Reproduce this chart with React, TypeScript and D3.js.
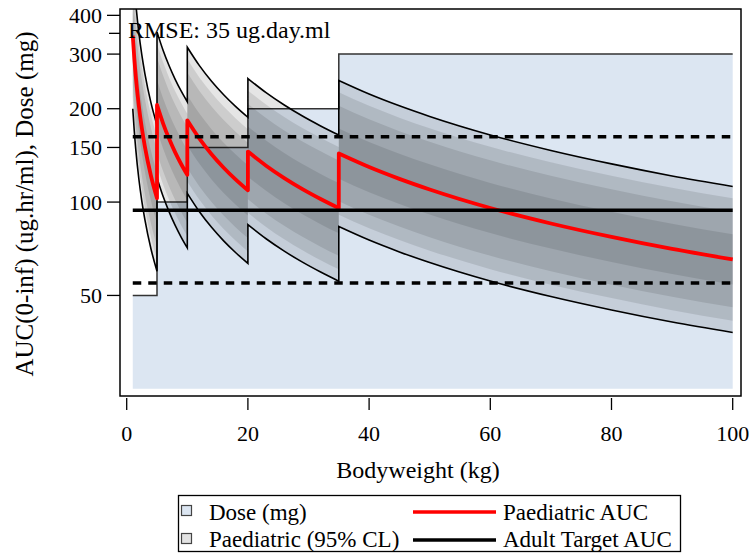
import React from "react";
import * as d3 from "d3";

// ---------------- data ----------------
const segmentBodyweights: number[][] = [
  [1, 1.25, 1.5, 2, 2.5, 3, 4, 5],
  [5, 6, 7, 8, 9, 10],
  [10, 12, 14, 16, 18, 20],
  [20, 23, 26, 29, 32, 35],
  [35, 40, 45, 50, 60, 70, 80, 90, 100],
];
const paediatricAuc: number[][] = [
  [344, 291, 254, 204.5, 173, 151, 121.6, 102.9],
  [205.7, 179.5, 159.9, 144.6, 132.4, 122.4],
  [183.5, 160.1, 142.6, 129, 118.1, 109.1],
  [145.5, 131, 119.5, 110.1, 102.3, 95.6],
  [143.4, 129.7, 118.8, 109.8, 95.7, 85.3, 77.2, 70.6, 65.3],
];
// prediction intervals: fold width (upper/median = median/lower)
const ciLevels = ["95%", "90%", "80%", "50%"];
const ciFoldWidth = [1.72, 1.575, 1.425, 1.205];

const doseBodyweights = [1, 5, 10, 20, 35, 100];
const doseMg = [50, 100, 150, 200, 300, 300];
const doseFloor = 25;

const adultTargetAuc = 94.2;
const adultTargetLimits = [54.8, 162.4];

const yTicks = [50, 100, 150, 200, 300, 400];
const yMinorTicks = [350];
const xTicks = [0, 20, 40, 60, 80, 100];

const rmseLabel = "RMSE: 35 ug.day.ml";
const xTitle = "Bodyweight (kg)";
const yTitle = "AUC(0-inf) (ug.hr/ml), Dose (mg)";
const legendItems = ["Dose (mg)", "Paediatric (95% CL)", "Paediatric AUC", "Adult Target AUC"];

// ---------------- layout ----------------
const W = 749;
const H = 554;
const frame = { left: 120, right: 741, top: 9, bottom: 396 };
const FONT = "'Liberation Serif', 'Times New Roman', serif";
const DOSE_FILL = "#dce6f2";

export default function App() {
  const x = d3.scaleLinear().domain([0, 100]).range([126.7, 732.7]);
  const y = d3.scaleLog().domain([23.7, 419.3]).range([frame.bottom, frame.top]);

  const line = d3
    .line<[number, number]>()
    .x((d) => x(d[0]))
    .y((d) => y(d[1]))
    .curve(d3.curveMonotoneX);

  const joined = (f: (v: number) => number) =>
    segmentBodyweights
      .map((bws, i) => line(bws.map((b, j) => [b, f(paediatricAuc[i][j])] as [number, number])) as string)
      .map((p, i) => (i ? p.replace(/^M/, "L") : p))
      .join("");

  const medianPath = joined((v) => v);
  const upperPath = joined((v) => v * ciFoldWidth[0]);
  const lowerPath = joined((v) => v / ciFoldWidth[0]);

  const bandPaths: { key: string; d: string }[] = [];
  ciFoldWidth.forEach((r, k) => {
    segmentBodyweights.forEach((bws, i) => {
      const vals = paediatricAuc[i];
      const area = d3
        .area<number>()
        .x((_, j) => x(bws[j]))
        .y0((v) => y(v / r))
        .y1((v) => y(v * r))
        .curve(d3.curveMonotoneX);
      bandPaths.push({ key: `${ciLevels[k]}-${i}`, d: area(vals) as string });
    });
  });

  const doseArea = d3
    .area<number>()
    .x((_, i) => x(doseBodyweights[i]))
    .y0(y(doseFloor))
    .y1((d) => y(d))
    .curve(d3.curveStepAfter)(doseMg) as string;
  const doseLine = d3
    .line<number>()
    .x((_, i) => x(doseBodyweights[i]))
    .y((d) => y(d))
    .curve(d3.curveStepAfter)(doseMg) as string;

  const xStart = x(doseBodyweights[0]);
  const xEnd = x(doseBodyweights[doseBodyweights.length - 1]);

  return (
    <svg
      width={W}
      height={H}
      style={{ position: "absolute", left: 0, top: 0, background: "#fff" }}
      fontFamily={FONT}
    >
      <defs>
        <clipPath id="plotClip">
          <rect x={frame.left} y={frame.top} width={frame.right - frame.left} height={frame.bottom - frame.top} />
        </clipPath>
      </defs>

      <g clipPath="url(#plotClip)">
        <path d={doseArea} fill={DOSE_FILL} />
        <path d={doseLine} fill="none" stroke="#333" strokeWidth={1.5} />
        {bandPaths.map((b) => (
          <path key={b.key} d={b.d} fill="#000" fillOpacity={0.1} stroke="none" />
        ))}
        <path d={upperPath} fill="none" stroke="#000" strokeWidth={1.6} />
        <path d={lowerPath} fill="none" stroke="#000" strokeWidth={1.6} />
        <path d={medianPath} fill="none" stroke="#ff0000" strokeWidth={3.8} strokeLinejoin="round" />
        {adultTargetLimits.map((v, i) => (
          <line key={i} x1={xStart} x2={xEnd} y1={y(v)} y2={y(v)} stroke="#000" strokeWidth={3.5} strokeDasharray="8.5,7" />
        ))}
        <line x1={xStart} x2={xEnd} y1={y(adultTargetAuc)} y2={y(adultTargetAuc)} stroke="#000" strokeWidth={3.5} />
        <text x={128} y={38} fontSize={24} fill="#000">
          {rmseLabel}
        </text>
      </g>

      {/* frame */}
      <rect
        x={frame.left}
        y={frame.top}
        width={frame.right - frame.left}
        height={frame.bottom - frame.top}
        fill="none"
        stroke="#000"
        strokeWidth={1.5}
      />

      {/* y axis */}
      {yTicks.map((t) => (
        <g key={t}>
          <line x1={107} x2={frame.left} y1={y(t)} y2={y(t)} stroke="#000" strokeWidth={1.3} />
          <text x={102} y={y(t)} dy="0.35em" textAnchor="end" fontSize={22}>
            {t}
          </text>
        </g>
      ))}
      {yMinorTicks.map((t) => (
        <line key={t} x1={109} x2={frame.left} y1={y(t)} y2={y(t)} stroke="#000" strokeWidth={1.3} />
      ))}
      <text transform={`translate(33,204) rotate(-90)`} textAnchor="middle" fontSize={25}>
        {yTitle}
      </text>

      {/* x axis */}
      {xTicks.map((t) => (
        <g key={t}>
          <line x1={x(t)} x2={x(t)} y1={398} y2={410} stroke="#000" strokeWidth={1.3} />
          <text x={x(t)} y={441} textAnchor="middle" fontSize={22}>
            {t}
          </text>
        </g>
      ))}
      <text x={418} y={478} textAnchor="middle" fontSize={24}>
        {xTitle}
      </text>

      {/* legend */}
      <g>
        <rect x={178.5} y={495.5} width={502} height={56} fill="#fff" stroke="#000" strokeWidth={1.3} />
        <rect x={181.5} y={505.5} width={10} height={10} fill={DOSE_FILL} stroke="#444" strokeWidth={1.2} />
        <text x={209} y={520} fontSize={23}>
          {legendItems[0]}
        </text>
        <rect x={181.5} y={533.5} width={10} height={10} fill="#e3e3e3" stroke="#444" strokeWidth={1.2} />
        <text x={209} y={547} fontSize={23}>
          {legendItems[1]}
        </text>
        <line x1={413} x2={496} y1={512} y2={512} stroke="#ff0000" strokeWidth={3.5} />
        <text x={503} y={520} fontSize={23}>
          {legendItems[2]}
        </text>
        <line x1={413} x2={496} y1={540} y2={540} stroke="#000" strokeWidth={3.5} />
        <text x={503} y={547} fontSize={23}>
          {legendItems[3]}
        </text>
      </g>
    </svg>
  );
}
